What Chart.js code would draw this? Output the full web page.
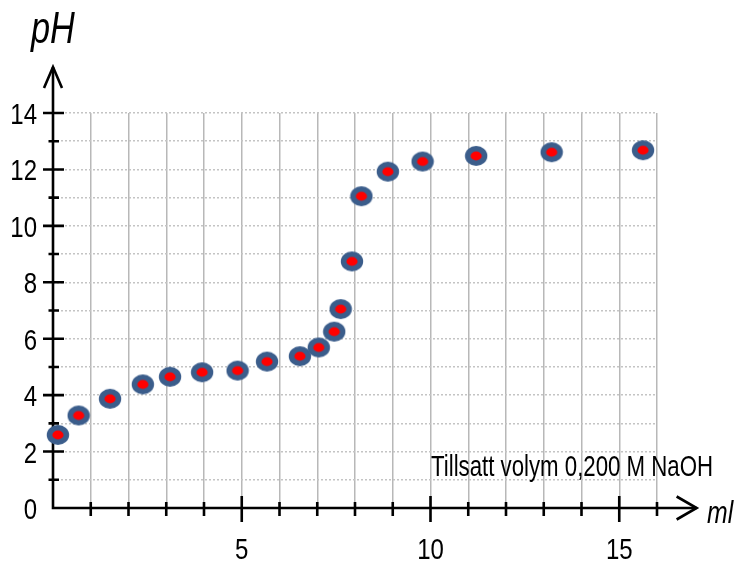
<!DOCTYPE html>
<html>
<head>
<meta charset="utf-8">
<script src="https://cdn.jsdelivr.net/npm/chart.js@4/dist/chart.umd.min.js"></script>
<style>
html,body{margin:0;padding:0;background:#fff;}
canvas{display:block;}
</style>
</head>
<body>
<canvas id="c" width="737" height="565"></canvas>
<script>
// Data
const volumeMl = [0.13, 0.68, 1.51, 2.38, 3.10, 3.95, 4.89, 5.67, 6.54, 7.04, 7.45, 7.62, 7.92, 8.17, 8.87, 9.79, 11.21, 13.21, 15.63];
const phValues = [2.59, 3.28, 3.87, 4.38, 4.65, 4.81, 4.87, 5.19, 5.38, 5.69, 6.25, 7.05, 8.74, 11.05, 11.92, 12.28, 12.48, 12.61, 12.68];
const xTickLabels = [5, 10, 15];
const yTickLabels = [0, 2, 4, 6, 8, 10, 12, 14];
const yAxisTitle = 'pH';
const xAxisTitle = 'ml';
const annotationText = 'Tillsatt volym 0,200 M NaOH';

const FONT = '"Liberation Sans", Arial, sans-serif';
const NARROW = 0.8; // horizontal squeeze to mimic a narrow face

// marker image: dark blue ellipse with red centre
const marker = document.createElement('canvas');
marker.width = 24; marker.height = 22;
(function(){
  const m = marker.getContext('2d');
  m.fillStyle = '#3b5d8b';
  m.beginPath(); m.ellipse(12, 11, 11.2, 10, 0, 0, Math.PI*2); m.fill();
  m.fillStyle = '#ff0000';
  m.beginPath(); m.ellipse(12, 11, 5.6, 4.4, 0, 0, Math.PI*2); m.fill();
})();

function narrowText(ctx, text, x, y, align, sx) {
  ctx.save();
  ctx.translate(x, y);
  ctx.scale(sx, 1);
  ctx.textAlign = align;
  ctx.fillText(text, 0, 0);
  ctx.restore();
}

const axesPlugin = {
  id: 'axesPlugin',
  beforeDatasetsDraw(chart) {
    const ctx = chart.ctx;
    const xs = chart.scales.x, ys = chart.scales.y;
    const x0 = xs.getPixelForValue(0), y0 = ys.getPixelForValue(0);
    const xTip = xs.getPixelForValue(17.05), yTip = ys.getPixelForValue(15.63);
    ctx.save();
    ctx.strokeStyle = '#000';
    ctx.lineWidth = 2.6;
    ctx.lineCap = 'butt';
    ctx.setLineDash([]);
    // axes
    ctx.beginPath();
    ctx.moveTo(x0 - 1.3, y0); ctx.lineTo(xTip, y0);
    ctx.moveTo(x0, y0); ctx.lineTo(x0, yTip);
    ctx.stroke();
    // arrow heads
    ctx.lineJoin = 'miter';
    ctx.beginPath();
    ctx.moveTo(x0 - 9, yTip + 21); ctx.lineTo(x0, yTip); ctx.lineTo(x0 + 9, yTip + 21);
    ctx.moveTo(xTip - 20, y0 - 11.5); ctx.lineTo(xTip, y0); ctx.lineTo(xTip - 20, y0 + 11.5);
    ctx.stroke();
    // x ticks
    ctx.beginPath();
    for (let v = 1; v <= 16; v++) {
      const px = xs.getPixelForValue(v);
      const major = v % 5 === 0;
      ctx.moveTo(px, y0 - (major ? 12 : 6));
      ctx.lineTo(px, y0 + (major ? 14 : 8));
    }
    // y ticks
    for (let v = 1; v <= 14; v++) {
      const py = ys.getPixelForValue(v);
      const major = v % 2 === 0;
      ctx.moveTo(x0 - (major ? 10 : 4.5), py);
      ctx.lineTo(x0 + (major ? 11 : 6), py);
    }
    ctx.stroke();
    // tick labels
    ctx.fillStyle = '#000';
    ctx.font = '30px ' + FONT;
    ctx.textBaseline = 'alphabetic';
    yTickLabels.forEach(v => {
      narrowText(ctx, String(v), 37, ys.getPixelForValue(v) + 11, 'right', NARROW);
    });
    xTickLabels.forEach(v => {
      narrowText(ctx, String(v), xs.getPixelForValue(v), 559, 'center', NARROW);
    });
    // titles
    ctx.font = 'italic 44px ' + FONT;
    narrowText(ctx, yAxisTitle, 31, 43, 'left', 0.78);
    ctx.font = 'italic 31px ' + FONT;
    narrowText(ctx, xAxisTitle, 707, 523, 'left', 0.8);
    ctx.font = '30px ' + FONT;
    const w = ctx.measureText(annotationText).width;
    narrowText(ctx, annotationText, 431, 476, 'left', 282 / w);
    ctx.restore();
  }
};

new Chart(document.getElementById('c'), {
  type: 'scatter',
  data: {
    datasets: [{
      data: volumeMl.map((v, i) => ({x: v, y: phValues[i]})),
      pointStyle: marker,
      pointRadius: 11,
      pointHoverRadius: 11,
      clip: false
    }]
  },
  plugins: [axesPlugin],
  options: {
    responsive: false,
    devicePixelRatio: 1,
    animation: false,
    events: [],
    layout: { padding: { top: 113, right: 80, left: 0, bottom: 0 } },
    plugins: { legend: { display: false }, tooltip: { enabled: false } },
    scales: {
      x: {
        type: 'linear',
        min: 0, max: 16,
        afterFit(scale) { scale.height = 57; },
        border: { display: false },
        grid: {
          color: (c) => c.tick && c.tick.value === 0 ? 'rgba(0,0,0,0)' : '#b8b8b8',
          lineWidth: 1.5,
          drawTicks: false
        },
        ticks: {
          stepSize: 1,
          autoSkip: false,
          display: false
        }
      },
      y: {
        type: 'linear',
        min: 0, max: 14,
        afterFit(scale) { scale.width = 53; },
        border: { display: false, dash: [2, 2] },
        grid: {
          color: (c) => c.tick && c.tick.value === 0 ? 'rgba(0,0,0,0)' : '#c4c4c4',
          lineWidth: 1.5,
          drawTicks: false
        },
        ticks: {
          stepSize: 1,
          autoSkip: false,
          display: false
        }
      }
    }
  }
});
</script>
</body>
</html>
